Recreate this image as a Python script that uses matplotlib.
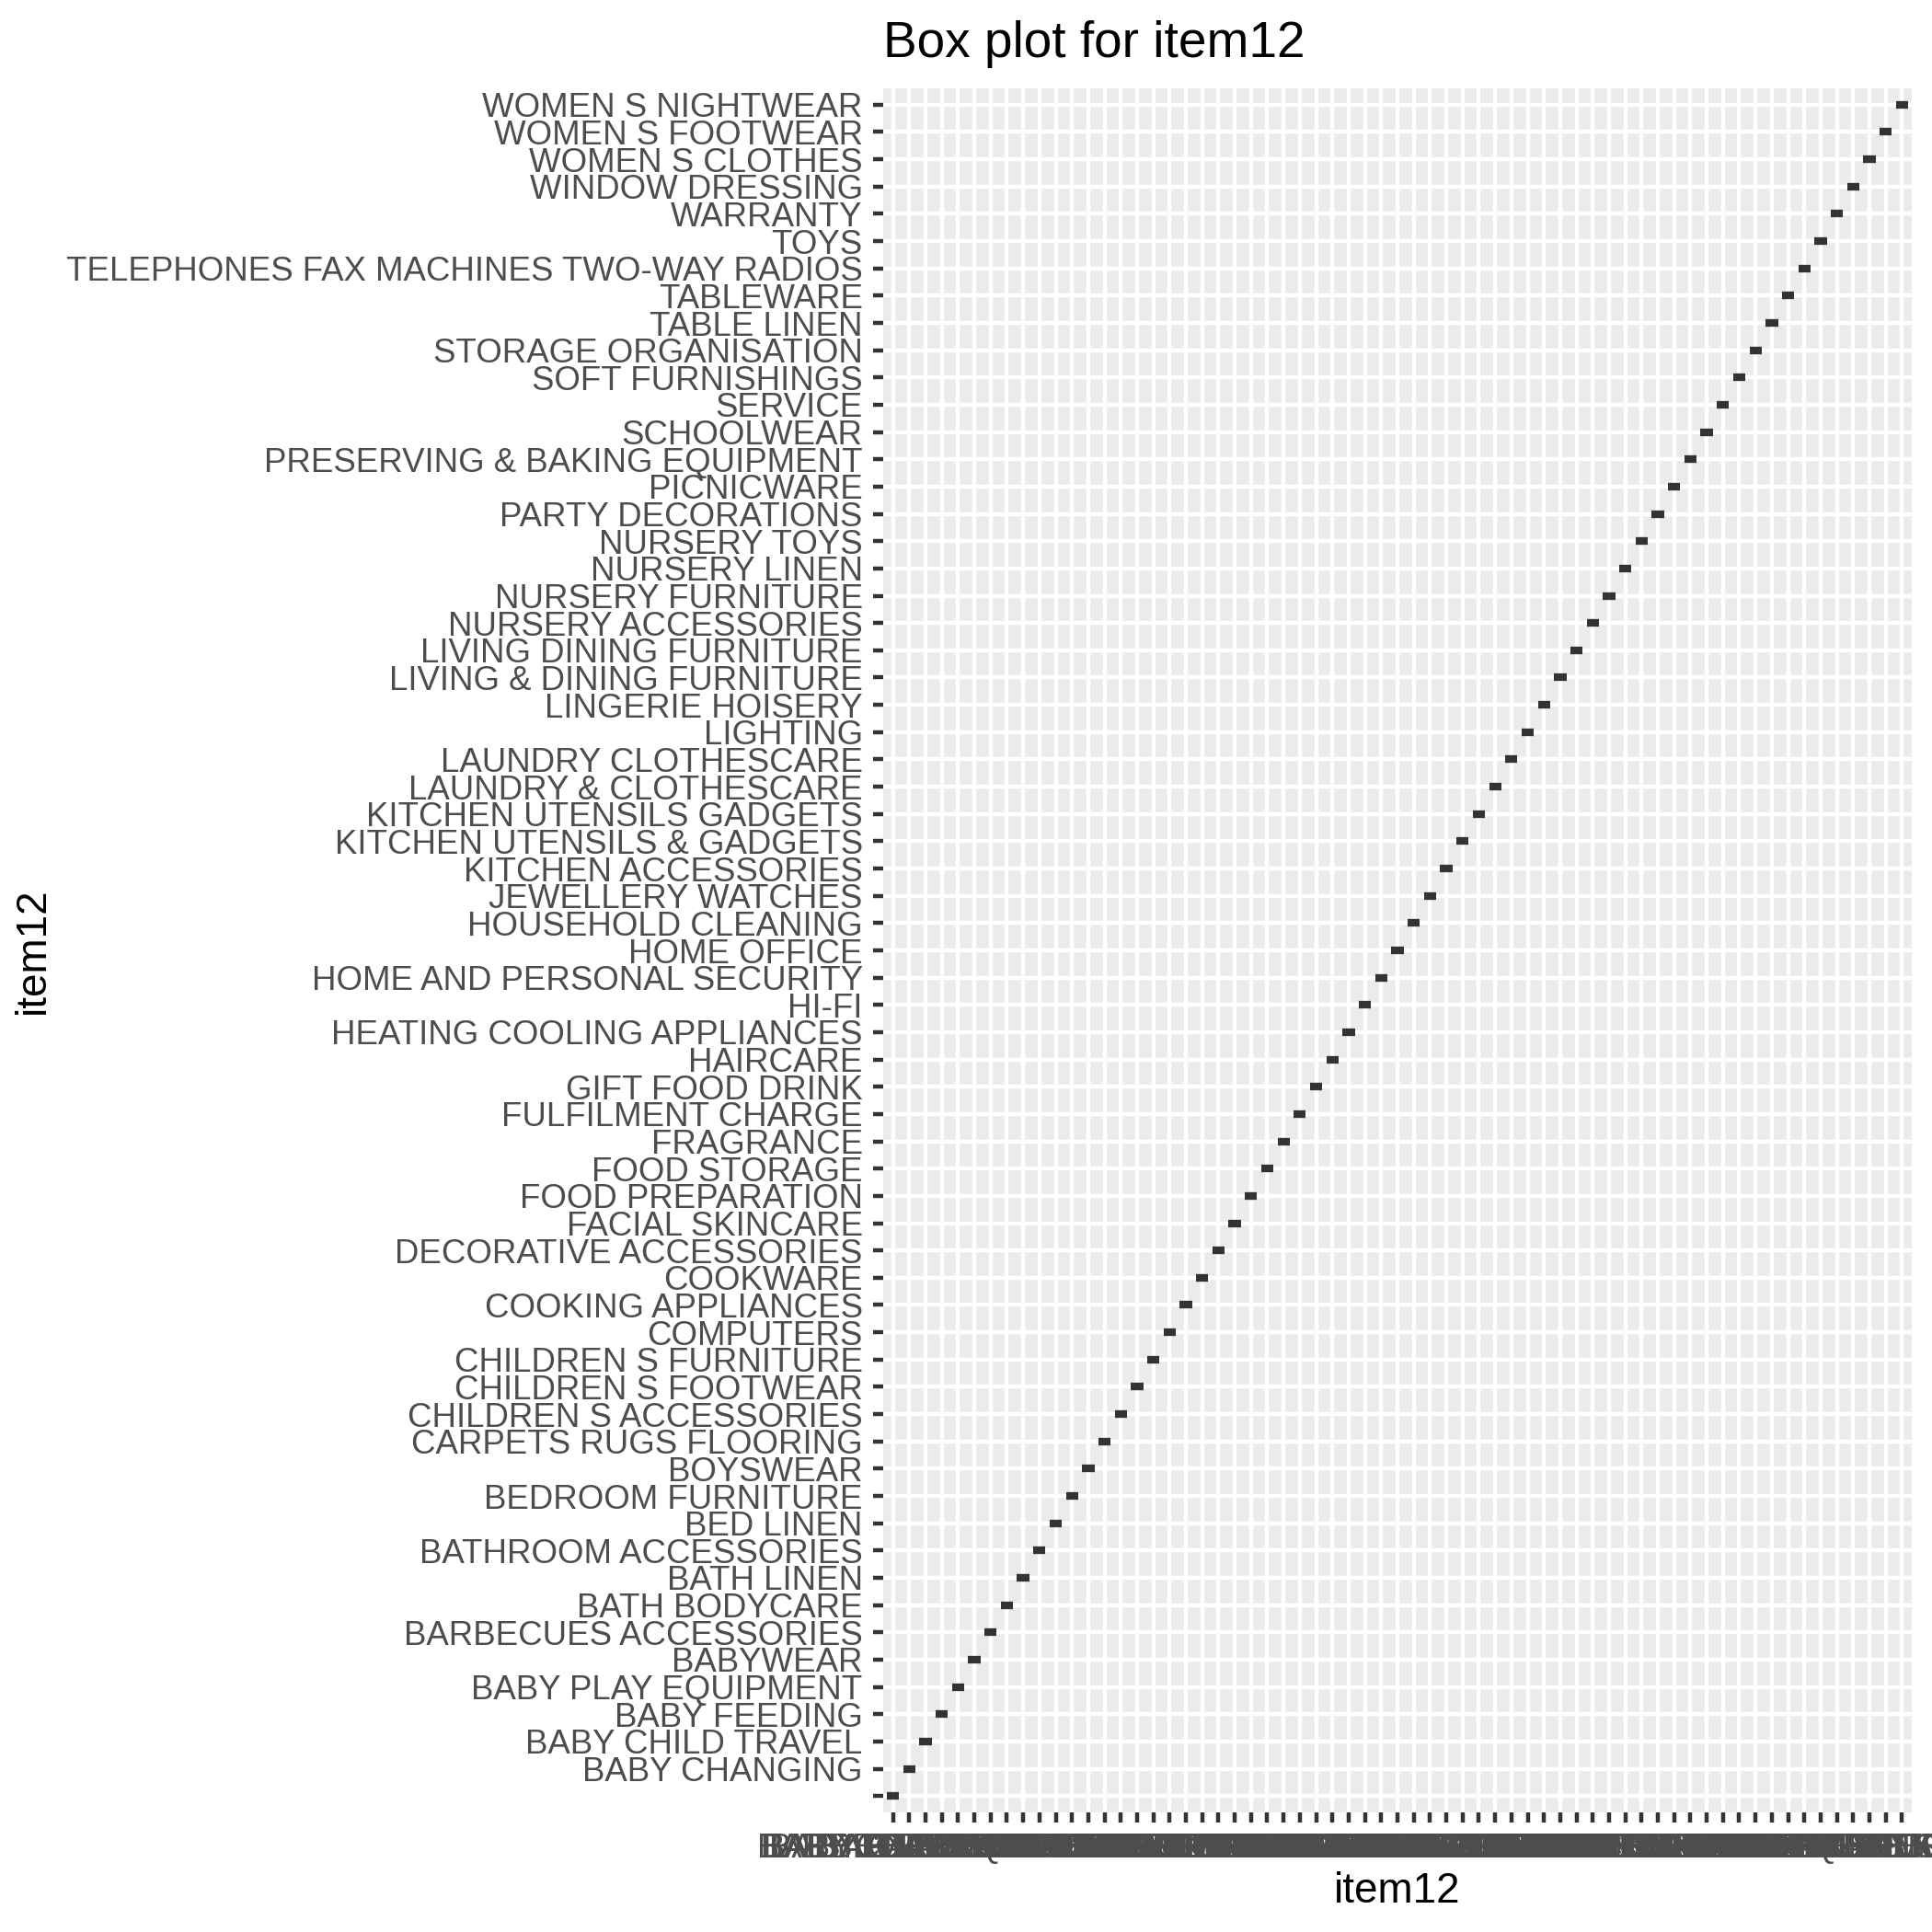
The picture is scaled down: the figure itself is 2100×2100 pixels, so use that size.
import matplotlib
matplotlib.use("Agg")
import matplotlib.pyplot as plt

plt.rcParams["font.family"] = ["Liberation Sans", "DejaVu Sans"]

# categories of item12 (ggplot factor order, bottom -> top)
categories = [
    "", "BABY CHANGING", "BABY CHILD TRAVEL", "BABY FEEDING", "BABY PLAY EQUIPMENT",
    "BABYWEAR", "BARBECUES ACCESSORIES", "BATH BODYCARE", "BATH LINEN",
    "BATHROOM ACCESSORIES", "BED LINEN", "BEDROOM FURNITURE", "BOYSWEAR",
    "CARPETS RUGS FLOORING", "CHILDREN S ACCESSORIES", "CHILDREN S FOOTWEAR",
    "CHILDREN S FURNITURE", "COMPUTERS", "COOKING APPLIANCES", "COOKWARE",
    "DECORATIVE ACCESSORIES", "FACIAL SKINCARE", "FOOD PREPARATION", "FOOD STORAGE",
    "FRAGRANCE", "FULFILMENT CHARGE", "GIFT FOOD DRINK", "HAIRCARE",
    "HEATING COOLING APPLIANCES", "HI-FI", "HOME AND PERSONAL SECURITY", "HOME OFFICE",
    "HOUSEHOLD CLEANING", "JEWELLERY WATCHES", "KITCHEN ACCESSORIES",
    "KITCHEN UTENSILS & GADGETS", "KITCHEN UTENSILS GADGETS", "LAUNDRY & CLOTHESCARE",
    "LAUNDRY CLOTHESCARE", "LIGHTING", "LINGERIE HOISERY", "LIVING & DINING FURNITURE",
    "LIVING DINING FURNITURE", "NURSERY ACCESSORIES", "NURSERY FURNITURE",
    "NURSERY LINEN", "NURSERY TOYS", "PARTY DECORATIONS", "PICNICWARE",
    "PRESERVING & BAKING EQUIPMENT", "SCHOOLWEAR", "SERVICE", "SOFT FURNISHINGS",
    "STORAGE ORGANISATION", "TABLE LINEN", "TABLEWARE",
    "TELEPHONES FAX MACHINES TWO-WAY RADIOS", "TOYS", "WARRANTY", "WINDOW DRESSING",
    "WOMEN S CLOTHES", "WOMEN S FOOTWEAR", "WOMEN S NIGHTWEAR",
]
# each group on the x axis only holds its own value on the y axis
observed = [[c] for c in categories]

GREY_BG = "#EBEBEB"
DARK = "#333333"
LABEL = "#4D4D4D"

fig = plt.figure(figsize=(7, 7), dpi=300)
ax = fig.add_axes([960 / 2100, 1 - 1970 / 2100, 1118 / 2100, 1874 / 2100])
ax.set_facecolor(GREY_BG)
for s in ax.spines.values():
    s.set_visible(False)

pos = list(range(len(categories)))
data = [[categories.index(v) for v in grp] for grp in observed]
ax.boxplot(data, positions=pos, widths=0.75, showfliers=False, showcaps=False,
           patch_artist=False, manage_ticks=False,
           boxprops=dict(color=DARK, linewidth=1.4, solid_capstyle="butt",
                         solid_joinstyle="miter"),
           whiskerprops=dict(color=DARK, linewidth=1.4, solid_capstyle="butt"),
           medianprops=dict(color=DARK, linewidth=2.0, solid_capstyle="butt"),
           zorder=3)

n = len(categories)
ax.set_xlim(-0.6, n - 1 + 0.6)
ax.set_ylim(-0.6, n - 1 + 0.6)
ax.set_xticks(pos)
ax.set_yticks(pos)
ax.set_xticklabels(categories)
ax.set_yticklabels(categories)
ax.grid(True, color="white", linewidth=1.07)
ax.set_axisbelow(True)
ax.tick_params(axis="both", length=2.75, width=1.07, color=DARK,
               labelsize=8.8, labelcolor=LABEL, pad=2.6)

ax.set_xlabel("item12", fontsize=11, color="black", labelpad=1.5)
ax.set_ylabel("item12", fontsize=11, color="black", labelpad=3.5)
fig.text(960 / 2100, 1 - 62 / 2100, "Box plot for item12", fontsize=13.2,
         color="black", ha="left", va="baseline")

fig.savefig("out.png", dpi=300)
